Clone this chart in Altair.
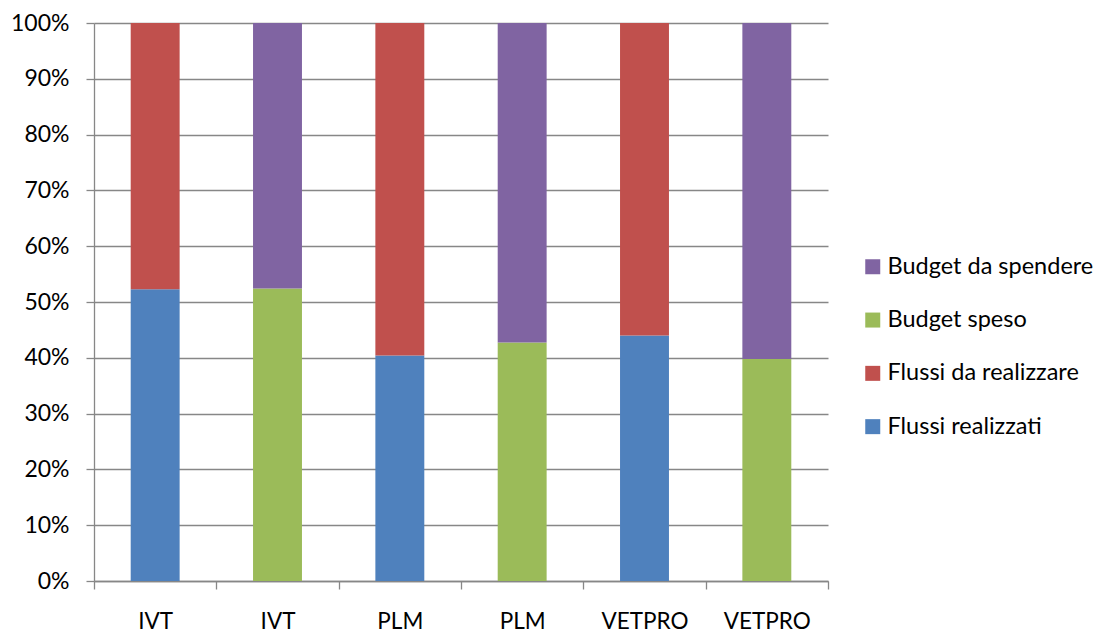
import altair as alt
import pandas as pd

# Category keys (unique) and their displayed labels
keys = ["IVT_a", "IVT_b", "PLM_a", "PLM_b", "VETPRO_a", "VETPRO_b"]
labels = ["IVT", "IVT", "PLM", "PLM", "VETPRO", "VETPRO"]

# Share of each bar (fractions of 100%)
flussi_realizzati = [0.523, None, 0.404, None, 0.440, None]
flussi_da_realizzare = [0.477, None, 0.596, None, 0.560, None]
budget_speso = [None, 0.524, None, 0.4275, None, 0.398]
budget_da_spendere = [None, 0.476, None, 0.5725, None, 0.602]

series = {
    "Flussi realizzati": (flussi_realizzati, 0),
    "Flussi da realizzare": (flussi_da_realizzare, 1),
    "Budget speso": (budget_speso, 0),
    "Budget da spendere": (budget_da_spendere, 1),
}

rows = []
for name, (vals, order) in series.items():
    for k, v in zip(keys, vals):
        if v is not None:
            rows.append({"key": k, "serie": name, "value": v, "ord": order})
df = pd.DataFrame(rows)

legend_order = ["Budget da spendere", "Budget speso", "Flussi da realizzare", "Flussi realizzati"]
legend_colors = ["#8064A2", "#9BBB59", "#C0504D", "#4F81BD"]

label_map = "{" + ",".join(f"'{k}':'{l}'" for k, l in zip(keys, labels)) + "}"

FONT = "Lato"
GRAY = "#878787"

chart = (
    alt.Chart(df)
    .mark_bar(width={"band": 0.4})
    .encode(
        x=alt.X(
            "key:N",
            sort=keys,
            scale=alt.Scale(paddingInner=0, paddingOuter=0),
            axis=alt.Axis(
                title=None,
                labelExpr=f"{label_map}[datum.value]",
                labelAngle=0,
                tickBand="extent",
                tickSize=8,
                tickColor=GRAY,
                tickWidth=1.3,
                domainColor=GRAY,
                domainWidth=1.3,
                labelPadding=21,
                labelFontSize=22.5,
                labelColor="#000000",
                labelFont=FONT,
                grid=False,
            ),
        ),
        y=alt.Y(
            "value:Q",
            stack="zero",
            scale=alt.Scale(domain=[0, 1], nice=False),
            axis=alt.Axis(
                title=None,
                format=".0%",
                values=[i / 10 for i in range(11)],
                tickSize=8,
                tickColor=GRAY,
                tickWidth=1.3,
                domainColor=GRAY,
                domainWidth=1.3,
                gridColor=GRAY,
                gridWidth=1.3,
                labelPadding=17,
                labelFontSize=23,
                labelColor="#000000",
                labelFont=FONT,
            ),
        ),
        color=alt.Color(
            "serie:N",
            scale=alt.Scale(domain=legend_order, range=legend_colors),
            legend=alt.Legend(
                title=None,
                orient="none",
                legendX=767,
                legendY=232,
                symbolType="square",
                symbolSize=225,
                symbolStrokeWidth=0,
                labelFontSize=23.5,
                labelFont=FONT,
                labelColor="#000000",
                labelLimit=400,
                rowPadding=28.3,
                labelOffset=3,
            ),
        ),
        order=alt.Order("ord:Q"),
    )
    .properties(
        width=734,
        height=558,
        autosize=alt.AutoSizeParams(type="none"),
        padding={"left": 94, "top": 23, "right": 279, "bottom": 51},
    )
    .configure_view(stroke=None)
)

chart.save("out.html", embed_options={"renderer": "svg", "actions": False})
